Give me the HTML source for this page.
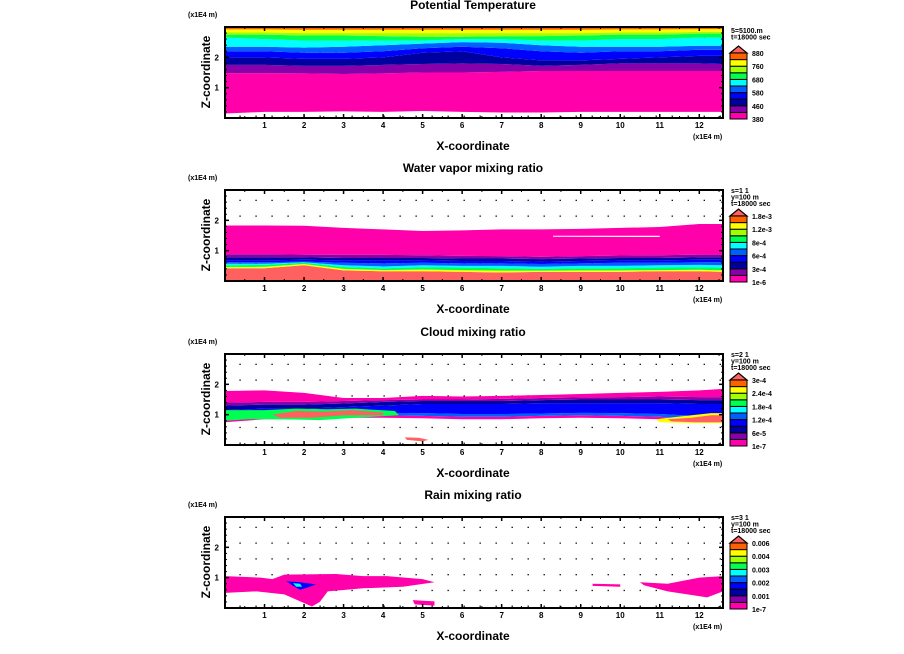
<!DOCTYPE html>
<html><head><meta charset="utf-8"><style>
html,body{margin:0;padding:0;background:#fff;}
svg{display:block;font-family:"Liberation Sans",sans-serif;}
.t{font-weight:bold;font-size:12px;}
.s{font-weight:bold;font-size:7px;}
.k{font-weight:bold;font-size:8px;}
</style></head><body>
<svg id="chart" width="904" height="654" viewBox="0 0 904 654"></svg>
<script>
const C={pink:'#ff00aa',purple:'#8800aa',db:'#0000a0',blue:'#0000ff',mb:'#0060ff',cyan:'#00ffff',green:'#00ff50',yg:'#a0ff00',yellow:'#ffff00',orange:'#ff6000',salmon:'#ff6060',white:'#ffffff'};
const xsamp=[0,1,2,3,4,5,6,7,8,9,10,11,12,12.6];
const xTicks=[1,2,3,4,5,6,7,8,9,10,11,12];
const zTicks=[1,2];
// Panel 1: potential temperature band boundaries (bottom to top)
const p1Bottom=[0.15,0.2,0.2,0.22,0.2,0.23,0.2,0.18,0.18,0.2,0.2,0.2,0.2,0.2];
const p1PinkTop=[1.48,1.48,1.47,1.45,1.47,1.5,1.5,1.52,1.55,1.55,1.55,1.55,1.55,1.55];
const p1PurpleTop=[1.75,1.75,1.72,1.72,1.75,1.78,1.8,1.78,1.72,1.75,1.8,1.8,1.8,1.78];
const p1DbTop=[2.0,2.0,1.95,1.95,2.0,2.15,2.2,2.0,1.9,1.9,1.95,2.0,2.05,2.05];
const p1BlueTop=[2.2,2.2,2.15,2.15,2.2,2.3,2.35,2.3,2.2,2.15,2.2,2.2,2.25,2.25];
const p1MbTop=[2.35,2.35,2.32,2.35,2.4,2.45,2.5,2.48,2.4,2.35,2.35,2.35,2.38,2.38];
const p1CyanTop=[2.65,2.6,2.55,2.55,2.55,2.55,2.6,2.6,2.55,2.55,2.6,2.6,2.65,2.65];
const p1GreenTop=[2.75,2.75,2.72,2.72,2.7,2.68,2.68,2.7,2.7,2.72,2.75,2.75,2.78,2.78];
const p1YgTop=[2.82,2.82,2.8,2.8,2.8,2.8,2.8,2.8,2.8,2.8,2.82,2.82,2.84,2.84];
const p1YellowTop=[2.92,2.92,2.91,2.91,2.91,2.91,2.91,2.91,2.91,2.91,2.92,2.92,2.93,2.93];
const p1Top=[3.1,3.1,3.1,3.1,3.1,3.1,3.1,3.1,3.1,3.1,3.1,3.1,3.1,3.1];
// Panel 2: water vapour
const p2Bottom=[0,0,0,0,0,0,0,0,0,0,0,0,0,0];
const p2SalmonTop=[0.42,0.42,0.52,0.35,0.32,0.32,0.3,0.28,0.3,0.3,0.3,0.32,0.32,0.3];
const p2YellowTop=[0.46,0.47,0.56,0.4,0.36,0.38,0.36,0.34,0.34,0.35,0.35,0.36,0.37,0.35];
const p2GreenTop=[0.52,0.53,0.6,0.46,0.42,0.45,0.44,0.42,0.4,0.42,0.42,0.44,0.45,0.44];
const p2CyanTop=[0.57,0.57,0.62,0.52,0.48,0.52,0.5,0.5,0.47,0.5,0.5,0.52,0.53,0.52];
const p2MbTop=[0.62,0.62,0.64,0.6,0.58,0.6,0.58,0.58,0.56,0.58,0.6,0.6,0.62,0.62];
const p2BlueTop=[0.68,0.68,0.7,0.68,0.68,0.68,0.66,0.66,0.64,0.66,0.68,0.68,0.7,0.7];
const p2DbTop=[0.78,0.78,0.78,0.76,0.76,0.76,0.74,0.74,0.72,0.74,0.76,0.76,0.78,0.78];
const p2PurpleTop=[0.88,0.88,0.87,0.86,0.86,0.85,0.83,0.82,0.8,0.82,0.84,0.85,0.87,0.87];
const p2PinkTop=[1.83,1.83,1.82,1.75,1.7,1.65,1.67,1.7,1.7,1.72,1.75,1.78,1.88,1.88];
// Panel 3: cloud
const p3Bottom=[0.75,0.85,0.85,0.9,0.9,0.88,0.85,0.85,0.88,0.9,0.88,0.85,0.75,0.72];
const p3PinkLowTop=[0.83,0.93,0.93,0.98,0.98,0.96,0.93,0.93,0.96,0.98,0.96,0.93,0.83,0.8];
const p3MbTop=[0.95,1.05,1.02,1.06,1.06,1.05,1.02,1.02,1.04,1.06,1.05,1.02,0.95,0.92];
const p3BlueTop=[1.15,1.2,1.2,1.25,1.3,1.35,1.35,1.35,1.38,1.38,1.38,1.38,1.35,1.35];
const p3DbTop=[1.3,1.33,1.33,1.37,1.42,1.45,1.45,1.45,1.48,1.5,1.5,1.5,1.48,1.48];
const p3PurpleTop=[1.4,1.42,1.42,1.45,1.48,1.5,1.5,1.52,1.55,1.57,1.58,1.6,1.58,1.58];
const p3PinkTop=[1.78,1.8,1.72,1.55,1.55,1.62,1.6,1.62,1.65,1.68,1.72,1.75,1.8,1.85];
const p3HaloX=[0,1,1.8,2.6,3.3,4.3,4.4,3.3,2.4,1.4,0.6,0];
const p3HaloZ=[1.15,1.15,1.2,1.18,1.2,1.12,0.98,0.9,0.82,0.85,0.85,0.8];
const p3SalmonX=[1.2,1.8,2.5,3.2,4.0,4.0,3.0,2.2,1.4];
const p3SalmonZ=[1.0,1.12,1.1,1.15,1.07,0.98,0.98,0.9,0.9];
const p3RightHaloX=[10.9,11.6,12.3,12.6,12.6,11.8,11.0];
const p3RightHaloZ=[0.85,0.95,1.05,1.05,0.72,0.72,0.75];
const p3RightSalmonX=[11.2,11.8,12.3,12.6,12.6,11.9,11.3];
const p3RightSalmonZ=[0.85,0.9,0.98,0.98,0.75,0.75,0.78];
const p3SmallX=[4.55,4.9,5.15,5.0,4.6];
const p3SmallZ=[0.25,0.24,0.17,0.12,0.17];
// Panel 4: rain
const p4LeftX=[0,0.9,1.2,1.5,2.8,3.5,4.1,5.0,5.3,4.5,3.5,2.6,2.4,2.2,1.5,0.8,0];
const p4LeftZ=[1.05,1.0,0.95,1.1,1.12,1.05,1.05,0.95,0.85,0.7,0.65,0.55,0.2,0.05,0.45,0.55,0.5];
const p4SmallX=[4.75,5.3,5.3,4.8];
const p4SmallZ=[0.26,0.22,0.08,0.12];
const p4RightX=[10.5,11.2,12.0,12.6,12.6,12.2,11.2,10.6];
const p4RightZ=[0.85,0.8,1.0,1.05,0.55,0.35,0.55,0.75];
const p4MidX=[9.3,10.0,10.0,9.3];
const p4MidZ=[0.8,0.78,0.7,0.73];
const p4BlueX=[1.55,1.9,2.3,2.1,1.9,1.7];
const p4BlueZ=[0.88,0.85,0.78,0.68,0.6,0.75];
const p4CyanX=[1.72,1.9,1.95,1.8];
const p4CyanZ=[0.82,0.8,0.7,0.7];

const svg=document.getElementById('chart');
const NS='http://www.w3.org/2000/svg';
const X0=225,X1=723,XMIN=0,XMAX=12.6,ZMIN=0,ZMAX=3.0;
function mk(tag,at,parent){const e=document.createElementNS(NS,tag);for(const k in at)e.setAttribute(k,at[k]);(parent||svg).appendChild(e);return e;}
function xs(v){return X0+(v-XMIN)/(XMAX-XMIN)*(X1-X0);}
function makeZ(top,bot){return v=>bot-(v-ZMIN)/(ZMAX-ZMIN)*(bot-top);}

const panels=[
 {top:27,title:'Potential Temperature',hdr:['5=5100.m','t=18000 sec'],
  bands:[[p1Bottom,p1PinkTop,'pink'],[p1PinkTop,p1PurpleTop,'purple'],[p1PurpleTop,p1DbTop,'db'],[p1DbTop,p1BlueTop,'blue'],[p1BlueTop,p1MbTop,'mb'],[p1MbTop,p1CyanTop,'cyan'],[p1CyanTop,p1GreenTop,'green'],[p1GreenTop,p1YgTop,'yg'],[p1YgTop,p1YellowTop,'yellow'],[p1YellowTop,p1Top,'orange']],
  blobs:[],labels:['880','760','680','580','460','380']},
 {top:190,title:'Water vapor mixing ratio',hdr:['s=1 1','y=100 m','t=18000 sec'],
  bands:[[p2Bottom,p2SalmonTop,'salmon'],[p2SalmonTop,p2YellowTop,'yellow'],[p2YellowTop,p2GreenTop,'green'],[p2GreenTop,p2CyanTop,'cyan'],[p2CyanTop,p2MbTop,'mb'],[p2MbTop,p2BlueTop,'blue'],[p2BlueTop,p2DbTop,'db'],[p2DbTop,p2PurpleTop,'purple'],[p2PurpleTop,p2PinkTop,'pink']],
  blobs:[],labels:['1.8e-3','1.2e-3','8e-4','6e-4','3e-4','1e-6']},
 {top:354,title:'Cloud mixing ratio',hdr:['s=2 1','y=100 m','t=18000 sec'],
  bands:[[p3Bottom,p3PinkLowTop,'pink'],[p3PinkLowTop,p3MbTop,'mb'],[p3MbTop,p3BlueTop,'blue'],[p3BlueTop,p3DbTop,'db'],[p3DbTop,p3PurpleTop,'purple'],[p3PurpleTop,p3PinkTop,'pink']],
  blobs:[[p3HaloX,p3HaloZ,'green'],[p3SalmonX,p3SalmonZ,'salmon'],[p3RightHaloX,p3RightHaloZ,'yellow'],[p3RightSalmonX,p3RightSalmonZ,'salmon'],[p3SmallX,p3SmallZ,'salmon']],
  labels:['3e-4','2.4e-4','1.8e-4','1.2e-4','6e-5','1e-7']},
 {top:517,title:'Rain mixing ratio',hdr:['s=3 1','y=100 m','t=18000 sec'],
  bands:[],
  blobs:[[p4LeftX,p4LeftZ,'pink'],[p4SmallX,p4SmallZ,'pink'],[p4RightX,p4RightZ,'pink'],[p4MidX,p4MidZ,'pink'],[p4BlueX,p4BlueZ,'blue'],[p4CyanX,p4CyanZ,'cyan']],
  labels:['0.006','0.004','0.003','0.002','0.001','1e-7']}
];
const barColors=['pink','purple','db','blue','mb','cyan','green','yg','yellow','orange'];

panels.forEach((p,pi)=>{
 const T=p.top,B=T+91,zs=makeZ(T,B);
 const g=mk('g',{});
 
 
 const cp=mk('clipPath',{id:'cp'+pi},g);mk('rect',{x:X0,y:T,width:X1-X0,height:B-T},cp);
 const plot=mk('g',{'clip-path':'url(#cp'+pi+')'},g);
 
 
 for(let x=0.38;x<XMAX;x+=0.405)for(let z=0.06;z<ZMAX;z+=0.52){mk('rect',{x:xs(x)-0.6,y:zs(z)-0.6,width:1.3,height:1.3,fill:'#000'},plot);}
 p.bands.forEach(b=>{
  const lo=b[0],hi=b[1];let pts=[];
  for(let i=0;i<xsamp.length;i++)pts.push(xs(xsamp[i])+','+zs(hi[i]));
  for(let i=xsamp.length-1;i>=0;i--)pts.push(xs(xsamp[i])+','+zs(lo[i]));
  const e=mk('polygon',{points:pts.join(' '),fill:C[b[2]]},plot);
  
  
 });
 p.blobs.forEach(b=>{
  const pts=b[0].map((x,i)=>xs(x)+','+zs(b[1][i]));
  const e=mk('polygon',{points:pts.join(' '),fill:C[b[2]]},plot);
  
  
 });
 if(pi===1){const w=mk('polygon',{points:[xs(8.3)+','+zs(1.49),xs(11)+','+zs(1.49),xs(11)+','+zs(1.45),xs(8.3)+','+zs(1.46)].join(' '),fill:'#fff'},plot);
  
  }
 const fr=mk('rect',{x:X0,y:T,width:X1-X0,height:B-T,fill:'none',stroke:'#000','stroke-width':2},g);
 
 
 for(let z=0.2;z<ZMAX;z+=0.2){
  mk('line',{x1:X0,x2:X0+2,y1:zs(z),y2:zs(z),stroke:'#000','stroke-width':1},g);
  mk('line',{x1:X1,x2:X1-2,y1:zs(z),y2:zs(z),stroke:'#000','stroke-width':1},g);
 }
 for(let x=0.5;x<XMAX;x+=0.5){
  mk('line',{x1:xs(x),x2:xs(x),y1:B,y2:B-2,stroke:'#000','stroke-width':1},g);
  mk('line',{x1:xs(x),x2:xs(x),y1:T,y2:T+2,stroke:'#000','stroke-width':1},g);
 }
 xTicks.forEach(v=>{
  mk('line',{x1:xs(v),x2:xs(v),y1:B,y2:B-4,stroke:'#000','stroke-width':1.5},g);
  mk('line',{x1:xs(v),x2:xs(v),y1:T,y2:T+4,stroke:'#000','stroke-width':1.5},g);
  const t=mk('text',{x:xs(v),y:B+10,'text-anchor':'middle',class:'k'},g);t.textContent=v;
  
  
 });
 zTicks.forEach(v=>{
  mk('line',{x1:X0,x2:X0+4,y1:zs(v),y2:zs(v),stroke:'#000','stroke-width':1.5},g);
  mk('line',{x1:X1,x2:X1-4,y1:zs(v),y2:zs(v),stroke:'#000','stroke-width':1.5},g);
  const t=mk('text',{x:X0-6,y:zs(v)+3,'text-anchor':'end',class:'k'},g);t.textContent=v;
  
  
 });
 const tt=mk('text',{x:473,y:T-18,'text-anchor':'middle',class:'t'},g);tt.textContent=p.title;
 
 
 const u=mk('text',{x:188,y:T-10,class:'s'},g);u.textContent='(x1E4 m)';
 
 
 const u2=mk('text',{x:693,y:B+21,class:'s'},g);u2.textContent='(x1E4 m)';
 
 
 const xt=mk('text',{x:473,y:B+32,'text-anchor':'middle',class:'t','font-size':'11px'},g);xt.textContent='X-coordinate';
 
 
 const zt=mk('text',{x:0,y:0,'text-anchor':'middle',class:'t','font-size':'11px',transform:'translate(210,'+(T+45)+') rotate(-90)'},g);zt.textContent='Z-coordinate';
 
 
 p.hdr.forEach((h,i)=>{const t=mk('text',{x:731,y:T+6+i*6.5-(p.hdr.length-2)*3,class:'s','font-size':'7px'},g);t.textContent=h;
  
  });
 const cb=mk('g',{},g);
 
 
 const cbTop=T+26,cbBot=B+1,n=10,h=(cbBot-cbTop)/n;
 mk('polygon',{points:'730,'+cbTop+' 738.5,'+(cbTop-7)+' 747,'+cbTop,fill:C.salmon,stroke:'#000','stroke-width':1.2},cb);
 barColors.forEach((c,i)=>{
  const r=mk('rect',{x:730,y:cbBot-(i+1)*h,width:17,height:h,fill:C[c],stroke:'#000','stroke-width':1},cb);
  
  
 });
 p.labels.forEach((l,i)=>{
  const t=mk('text',{x:752,y:cbTop+3+i*2*h,class:'s'},cb);t.textContent=l;
  
  
 });
});
</script>
</body></html>
